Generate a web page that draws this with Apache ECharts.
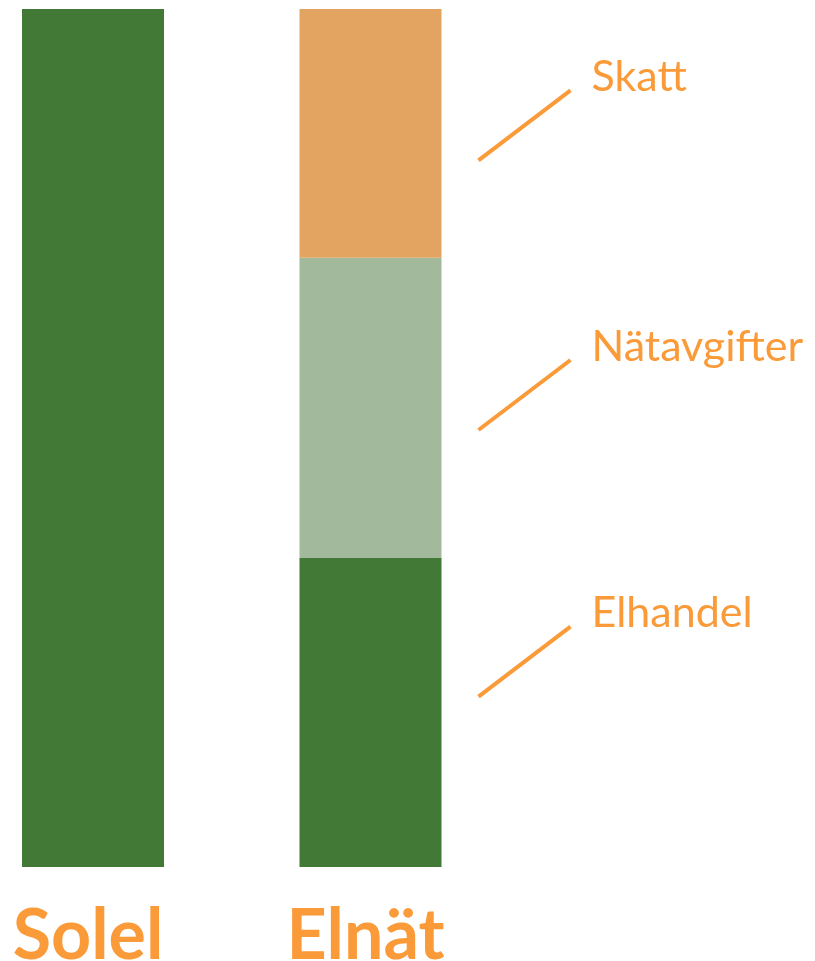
<!DOCTYPE html>
<html>
<head>
<meta charset="utf-8">
<script src="https://cdn.jsdelivr.net/npm/echarts@6/dist/echarts.min.js"></script>
<style>
html,body{margin:0;padding:0;background:#fff;}
#chart{width:815px;height:961px;}
</style>
</head>
<body>
<div id="chart"></div>
<script>
// ---- data ----
const categories = ['Solel', 'Elnät'];
const solelValues = [100, null];
const elhandelValues = [null, 36];
const natavgifterValues = [null, 35];
const skattValues = [null, 29];
const segmentNames = ['Elhandel', 'Nätavgifter', 'Skatt'];

// ---- styles ----
const darkGreen = '#427936';
const lightGreen = '#A3B99C';
const barOrange = '#E3A462';
const textOrange = '#FA9A38';
const leaderDy = [-16, 22, 27]; // label layout offsets (px) from segment middle

const chart = echarts.init(document.getElementById('chart'));

// annotation anchors at middle of each Elnät segment (computed from data)
const elnatIdx = 1;
const segVals = [elhandelValues[elnatIdx], natavgifterValues[elnatIdx], skattValues[elnatIdx]];
let cum = 0;
const annotData = segVals.map((v, i) => {
  const mid = cum + v / 2;
  cum += v;
  return [elnatIdx, mid, i];
});

const BAR_W = 142;

chart.setOption({
  animation: false,
  grid: { left: 93, top: 9, width: 277.5, bottom: 94, containLabel: false, outerBoundsMode: 'none' },
  xAxis: {
    type: 'category',
    data: categories,
    boundaryGap: false,
    axisLine: { show: false },
    axisTick: { show: false },
    axisLabel: {
      color: textOrange,
      fontFamily: 'Lato',
      fontWeight: 'bold',
      fontSize: 70,
      margin: 34,
      padding: [0, 10, 0, 0]
    }
  },
  yAxis: {
    type: 'value', min: 0, max: 100,
    show: false,
    splitLine: { show: false }
  },
  series: [
    { name: 'Solel', type: 'bar', stack: 's', barWidth: BAR_W, data: solelValues, itemStyle: { color: darkGreen } },
    { name: 'Elhandel', type: 'bar', stack: 's', barWidth: BAR_W, data: elhandelValues, itemStyle: { color: darkGreen } },
    { name: 'Nätavgifter', type: 'bar', stack: 's', barWidth: BAR_W, data: natavgifterValues, itemStyle: { color: lightGreen } },
    { name: 'Skatt', type: 'bar', stack: 's', barWidth: BAR_W, data: skattValues, itemStyle: { color: barOrange } },
    {
      type: 'custom',
      data: annotData,
      silent: true,
      renderItem: function (params, api) {
        const p = api.coord([api.value(0), api.value(1)]);
        const i = api.value(2);
        const x0 = p[0] + BAR_W / 2 + 37;
        const y0 = p[1] + leaderDy[i];
        const x1 = x0 + 92;
        const y1 = y0 - 70;
        return {
          type: 'group',
          children: [
            { type: 'line', shape: { x1: x0, y1: y0, x2: x1, y2: y1 }, style: { stroke: textOrange, lineWidth: 4 } },
            { type: 'text', style: { x: x1 + 21, y: y1 - 13, text: segmentNames[i], fill: textOrange, font: '43px Lato', textAlign: 'left', textVerticalAlign: 'middle' } }
          ]
        };
      }
    }
  ]
});
</script>
</body>
</html>
